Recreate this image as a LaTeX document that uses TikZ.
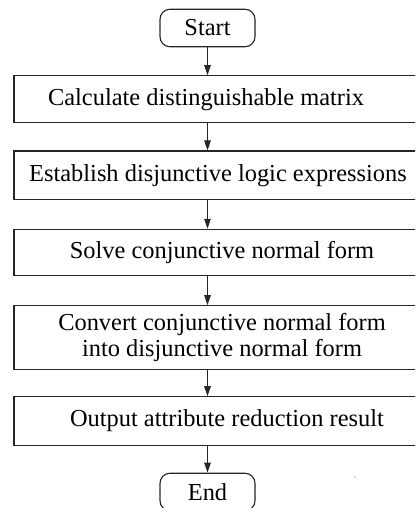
\documentclass[tikz,border=0pt]{standalone}
\usepackage{fontspec}
\setmainfont{Liberation Serif}
\usetikzlibrary{arrows.meta}
\begin{document}
\begin{tikzpicture}[x=1bp,y=-1bp,
  txt/.style={font=\fontsize{24.5}{27}\selectfont},
  box/.style={txt, draw=black!85, line width=1.1bp, minimum width=416bp, inner sep=0pt, align=center},
  term/.style={txt, draw=black!85, line width=1.1bp, rounded corners=10bp, minimum width=95bp, minimum height=37.5bp, inner sep=0pt},
  flow/.style={draw=black!85, line width=0.9bp, -{Triangle[length=10bp,width=6.5bp]}}]
\useasboundingbox (0,0) rectangle (415,508);
\clip (0,0) rectangle (415,508);
\node[term] (start) at (207.5,28) {Start};
\node[box, minimum height=47bp] (b1) at (222,99.2) {\hspace*{-32bp}Calculate distinguishable matrix};
\node[box, minimum height=48.3bp] (b2) at (222,175.2) {\hspace*{-8bp}Establish disjunctive logic expressions};
\node[box, minimum height=46.4bp] (b3) at (222,252.5) {Solve conjunctive normal form};
\node[box, minimum height=63.6bp] (b4) at (222,337.5) {Convert conjunctive normal form\\into disjunctive normal form};
\node[box, minimum height=48.3bp] (b5) at (222,420.9) {\hspace*{10bp}Output attribute reduction result};
\node[term] (end) at (207.5,492) {End};
\draw[flow] (start) -- (b1.north -| start);
\draw[flow] (b1.south -| start) -- (b2.north -| start);
\draw[flow] (b2.south -| start) -- (b3.north -| start);
\draw[flow] (b3.south -| start) -- (b4.north -| start);
\draw[flow] (b4.south -| start) -- (b5.north -| start);
\draw[flow] (b5.south -| start) -- (end);
\fill[black!60] (355,477) circle (0.7bp);
\end{tikzpicture}
\end{document}
